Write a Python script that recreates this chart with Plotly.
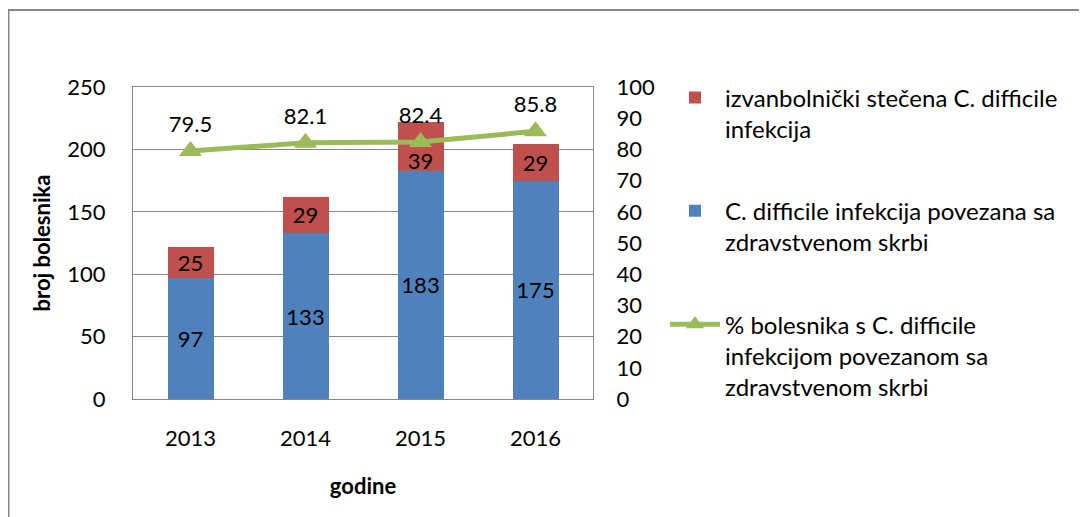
import plotly.graph_objects as go

years = ["2013", "2014", "2015", "2016"]
hospital = [97, 133, 183, 175]
community = [25, 29, 39, 29]
percent = [79.5, 82.1, 82.4, 85.8]

name_comm = "izvanbolnički stečena C. difficile<br>infekcija"
name_hosp = "C. difficile infekcija povezana sa<br>zdravstvenom skrbi"
name_pct = "% bolesnika s C. difficile<br>infekcijom povezanom sa<br>zdravstvenom skrbi"

FONT = "Lato"
FS = 22
OFF = 8  # page body margin

W, H = 1087 - OFF, 517 - OFF
L, R, T, B = 133 - OFF, 593 - OFF, 87 - OFF, 399 - OFF
PW, PH = R - L, B - T

# the 2015 community label sits a little lower in the original (pushed below the line)
comm_templates = ["%{text}", "%{text}", "&nbsp;<br>%{text}", "%{text}"]

fig = go.Figure()
fig.add_trace(go.Bar(
    x=years, y=hospital, name=name_hosp, marker=dict(color="#4F81BD", line=dict(width=0)),
    text=hospital, textposition="inside", insidetextanchor="middle", textangle=0,
    textfont=dict(color="black", size=FS, family=FONT), legendrank=2, legendgroup="b",
))
fig.add_trace(go.Bar(
    x=years, y=community, name=name_comm, marker=dict(color="#C0504D", line=dict(width=0)),
    text=community, texttemplate=comm_templates,
    textposition="inside", insidetextanchor="middle", textangle=0,
    textfont=dict(color="black", size=FS, family=FONT), legendrank=1, legendgroup="a",
))
fig.add_trace(go.Scatter(
    x=years, y=percent, name=name_pct, yaxis="y2", mode="lines+markers+text",
    line=dict(color="#9BBB59", width=5),
    marker=dict(symbol="triangle-up", size=20, color="#9BBB59"),
    text=[str(v) for v in percent], textposition="top center",
    textfont=dict(color="black", size=FS, family=FONT), legendrank=3, legendgroup="c",
    cliponaxis=False,
))

fig.update_layout(
    width=W, height=H,
    margin=dict(l=L, r=W - R, t=T, b=H - B, autoexpand=False),
    barmode="stack", bargap=0.6,
    paper_bgcolor="white", plot_bgcolor="white",
    font=dict(family=FONT, size=FS, color="black"),
    uniformtext=dict(mode="show", minsize=FS),
    xaxis=dict(
        showgrid=False, showline=True, linecolor="#868686", linewidth=1, mirror=True,
        ticks="outside", ticklen=20, tickcolor="rgba(0,0,0,0)",
        title=dict(text="<b>godine</b>", standoff=28, font=dict(size=FS)),
    ),
    yaxis=dict(
        range=[0, 250], dtick=50, showgrid=True, gridcolor="#868686", gridwidth=1,
        showline=True, linecolor="#868686", linewidth=1, mirror=True,
        ticks="outside", ticklen=22, tickcolor="rgba(0,0,0,0)", zeroline=False,
        title=dict(text="<b>broj bolesnika</b>", standoff=10, font=dict(size=FS)),
    ),
    yaxis2=dict(
        range=[0, 100], dtick=10, overlaying="y", side="right", showgrid=False,
        ticks="outside", ticklen=18, tickcolor="rgba(0,0,0,0)", zeroline=False,
    ),
    legend=dict(
        x=(665 - 133) / PW, y=1.06 - 7 / PH, xanchor="left", yanchor="top",
        font=dict(size=24), tracegroupgap=48, traceorder="grouped",
        bgcolor="rgba(0,0,0,0)", itemwidth=50, maxheight=1.0, valign="top",
    ),
    shapes=[dict(type="rect", xref="paper", yref="paper",
                 x0=(0.5 - L) / PW, x1=(1200 - OFF - L) / PW,
                 y0=(B - (600 - OFF)) / PH, y1=(B - 2) / PH,
                 line=dict(color="#878787", width=2), layer="below")],
)

fig.write_html("out.html")
